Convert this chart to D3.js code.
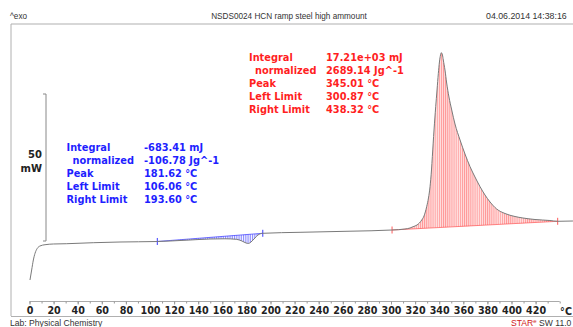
<!DOCTYPE html>
<html><head><meta charset="utf-8">
<script src="https://cdn.jsdelivr.net/npm/d3@7"></script>
<style>
html,body{margin:0;padding:0;background:#fff;overflow:hidden;}
svg{display:block;}
</style></head>
<body>
<svg id="c" width="573" height="327"></svg>
<script>
// ---- data ----
const temperatures = [0.4,1.8,3.2,4.6,6.5,8.7,12.9,19.8,30.9,52.9,75.1,106.06,116.6,133.2,149.8,162.2,171.6,176.3,179.7,181.7,183.8,187.1,189.6,193.6,224.5,266.0,300.87,311.6,315.8,318.3,321.6,325.5,327.4,329.6,331.1,332.4,333.6,334.3,335.7,337.1,338.2,339.3,340.2,341.1,341.7,342.7,343.4,344.8,346.2,348.1,350.4,353.1,357.3,361.4,365.6,369.7,373.9,378.0,382.2,387.7,394.6,402.9,409.5,419.5,431.9,438.32,451.0];
const heatFlow = [-13.27,-9.86,-6.46,-4.18,-2.48,-1.70,-1.26,-1.02,-0.92,-0.58,-0.34,-0.17,0.0,0.34,0.68,0.75,0.58,0.0,-0.68,-0.85,-0.34,1.02,2.04,2.62,2.96,3.33,3.74,4.08,4.42,4.86,5.44,7.14,8.50,11.66,14.63,18.47,24.15,28.67,37.76,45.68,51.36,57.04,60.88,63.27,64.05,63.27,61.56,58.16,53.74,48.98,44.56,39.80,34.35,29.59,25.27,21.77,18.47,15.65,13.27,10.88,9.35,8.33,7.82,7.31,6.97,6.70,6.80];
const xTickValues = [0,20,40,60,80,100,120,140,160,180,200,220,240,260,280,300,320,340,360,380,400,420];
const xMinorTicks = d3.range(0, 441, 10);
const blueLimits = [106.06, 193.60];
const redLimits = [300.87, 438.32];
const blueLabels = ["Integral","  normalized","Peak","Left Limit","Right Limit"];
const blueValues = ["-683.41 mJ","-106.78 Jg^-1","181.62 °C","106.06 °C","193.60 °C"];
const redLabels = ["Integral","  normalized","Peak","Left Limit","Right Limit"];
const redValues = ["17.21e+03 mJ","2689.14 Jg^-1","345.01 °C","300.87 °C","438.32 °C"];
const scaleBarMW = [0, 50];

const data = temperatures.map((t,i)=>({t, v:heatFlow[i]}));
const svg = d3.select("#c");
const x = d3.scaleLinear().domain([0, 420]).range([29.5, 29.5 + 420*1.205]);
const y = d3.scaleLinear().domain([0, 50]).range([241, 94]);

// frame
svg.append("line").attr("x1",11).attr("x2",573).attr("y1",24).attr("y2",24).attr("stroke","#b0b0b0").attr("stroke-width",1.2);
svg.append("line").attr("x1",11).attr("x2",11).attr("y1",24).attr("y2",316).attr("stroke","#b0b0b0").attr("stroke-width",1);
svg.append("line").attr("x1",11).attr("x2",573).attr("y1",316.5).attr("y2",316.5).attr("stroke","#b0b0b0").attr("stroke-width",1);

// header texts
const hdr = svg.append("g").attr("font-family","Liberation Sans, Arial, sans-serif").attr("font-size",8.2).attr("fill","#333");
hdr.append("text").attr("x",10).attr("y",19).text("^exo");
hdr.append("text").attr("x",289).attr("y",19).attr("text-anchor","middle").text("NSDS0024 HCN ramp steel high ammount");
hdr.append("text").attr("x",486).attr("y",19).attr("font-size",8.8).text("04.06.2014 14:38:16");
hdr.append("text").attr("x",10).attr("y",326).attr("font-size",8.6).text("Lab: Physical Chemistry");
const star = hdr.append("text").attr("x",511).attr("y",326).attr("font-size",8.6);
star.append("tspan").attr("fill","#d02020").text("STAR");
star.append("tspan").attr("fill","#d02020").attr("font-size",6).attr("dy",-3).text("e");
star.append("tspan").attr("dy",3).text(" SW 11.0");

// patterns
const defs = svg.append("defs");
const pr = defs.append("pattern").attr("id","hatchRed").attr("patternUnits","userSpaceOnUse").attr("width",2.1).attr("height",10);
pr.append("rect").attr("width",2.1).attr("height",10).attr("fill","#ffe2e2");
pr.append("line").attr("x1",0.5).attr("x2",0.5).attr("y1",0).attr("y2",10).attr("stroke","#ff8a8a").attr("stroke-width",0.8);
const pb = defs.append("pattern").attr("id","hatchBlue").attr("patternUnits","userSpaceOnUse").attr("width",1.8).attr("height",10);
pb.append("line").attr("x1",0.5).attr("x2",0.5).attr("y1",0).attr("y2",10).attr("stroke","#5a5aff").attr("stroke-width",0.7);

const curve = d3.curveMonotoneX;
function valAt(t){ const d = data.find(p=>Math.abs(p.t-t)<1e-6); return d.v; }
function drawIntegration(lims, pat, color){
  const v0 = valAt(lims[0]), v1 = valAt(lims[1]);
  const base = t => v0 + (t-lims[0])/(lims[1]-lims[0])*(v1-v0);
  const seg = data.filter(p=>p.t>=lims[0]-1e-6 && p.t<=lims[1]+1e-6);
  const area = d3.area().x(p=>x(p.t)).y0(p=>y(base(p.t))).y1(p=>y(p.v)).curve(curve);
  svg.append("path").attr("d",area(seg)).attr("fill",`url(#${pat})`).attr("stroke","none");
  svg.append("line").attr("x1",x(lims[0])).attr("x2",x(lims[1])).attr("y1",y(v0)).attr("y2",y(v1))
     .attr("stroke",color).attr("stroke-width",0.9).attr("opacity",0.8);
  lims.forEach((t,i)=>{
    const v = i===0? v0 : v1;
    svg.append("line").attr("x1",x(t)).attr("x2",x(t)).attr("y1",y(v)-3.5).attr("y2",y(v)+3.5).attr("stroke",color).attr("stroke-width",1);
  });
}
drawIntegration(blueLimits,"hatchBlue","#3a3aff");
drawIntegration(redLimits,"hatchRed","#ff5a5a");

// main curve
const line = d3.line().x(p=>x(p.t)).y(p=>y(p.v)).curve(curve);
svg.append("path").attr("d",line(data)).attr("fill","none").attr("stroke","#7a7a7a").attr("stroke-width",1);

// scale bar
const sb = svg.append("g").attr("stroke","#888").attr("stroke-width",1).attr("fill","none");
sb.append("line").attr("x1",46).attr("x2",46).attr("y1",y(scaleBarMW[1])).attr("y2",y(scaleBarMW[0]));
sb.append("line").attr("x1",43).attr("x2",46).attr("y1",y(scaleBarMW[1])).attr("y2",y(scaleBarMW[1]));
sb.append("line").attr("x1",43).attr("x2",46).attr("y1",y(scaleBarMW[0])).attr("y2",y(scaleBarMW[0]));
const bold = "DejaVu Sans, Verdana, sans-serif";
svg.append("text").attr("x",42).attr("y",158).attr("text-anchor","end").attr("font-family",bold).attr("font-weight","bold").attr("font-size",10).attr("fill","#222").text(scaleBarMW[1]);
svg.append("text").attr("x",42).attr("y",172).attr("text-anchor","end").attr("font-family",bold).attr("font-weight","bold").attr("font-size",10).attr("fill","#222").text("mW");

// x axis
const axY = 301.5;
const minor = d3.axisBottom(x).tickValues(xMinorTicks).tickSize(2).tickFormat("");
svg.append("g").attr("transform",`translate(0,${axY})`).call(minor)
  .call(g=>g.select(".domain").attr("stroke","#aaa").attr("d",`M${x(0)},0H${x(440)}`))
  .call(g=>g.selectAll("line").attr("stroke","#999"));
const major = d3.axisBottom(x).tickValues(xTickValues).tickSize(3).tickPadding(3).tickFormat(d3.format("d"));
svg.append("g").attr("transform",`translate(0,${axY})`).call(major)
  .call(g=>g.select(".domain").remove())
  .call(g=>g.selectAll("line").attr("stroke","#999"))
  .call(g=>g.selectAll("text").attr("font-family",bold).attr("font-weight","bold").attr("font-size",9.6).attr("fill","#222"));
svg.append("text").attr("x",566).attr("y",315).attr("text-anchor","middle").attr("font-family",bold).attr("font-weight","bold").attr("font-size",9.6).attr("fill","#222").text("°C");

// annotation blocks
function block(labels, values, x0, x1, y0, color){
  const g = svg.append("g").attr("font-family",bold).attr("font-weight","bold").attr("font-size",9.8).attr("fill",color);
  labels.forEach((l,i)=>{
    g.append("text").attr("x",x0 + (l.startsWith("  ")?6:0)).attr("y",y0+i*13).text(l.trim());
    g.append("text").attr("x",x1).attr("y",y0+i*13).text(values[i]);
  });
}
block(blueLabels, blueValues, 66.5, 144, 151, "#1f1fff");
block(redLabels, redValues, 249, 326, 61, "#ff1f1f");
</script>
</body></html>
